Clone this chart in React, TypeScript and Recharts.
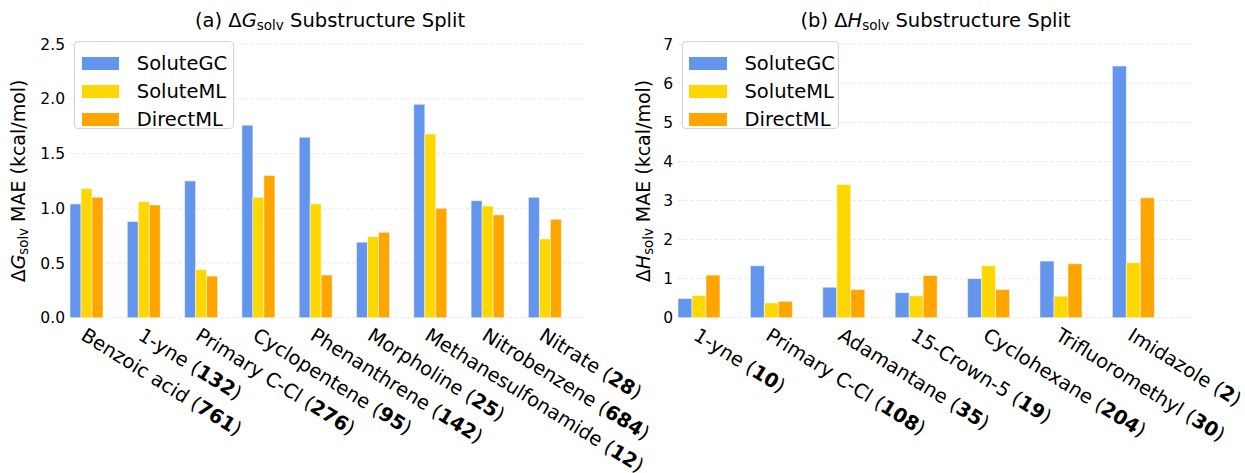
import React from "react";
import { Bar, BarChart, CartesianGrid, Legend, XAxis, YAxis } from "recharts";

const FONT = '"DejaVu Sans", sans-serif';

// Series colours (matplotlib named colours)
const SOLUTE_GC = "#6495ED";
const SOLUTE_ML = "#FFD700";
const DIRECT_ML = "#FFA500";
const seriesOrder = ["SoluteGC", "SoluteML", "DirectML"];

// (a) dG_solv substructure split
const gCategories = [
  "Benzoic acid",
  "1-yne",
  "Primary C-Cl",
  "Cyclopentene",
  "Phenanthrene",
  "Morpholine",
  "Methanesulfonamide",
  "Nitrobenzene",
  "Nitrate",
];
const gCounts = [761, 132, 276, 95, 142, 25, 12, 684, 28];
const gSoluteGC = [1.04, 0.88, 1.25, 1.76, 1.65, 0.69, 1.95, 1.07, 1.1];
const gSoluteML = [1.18, 1.06, 0.44, 1.1, 1.04, 0.74, 1.68, 1.02, 0.72];
const gDirectML = [1.1, 1.03, 0.38, 1.3, 0.39, 0.78, 1.0, 0.94, 0.9];
const gTicks = [0, 0.5, 1.0, 1.5, 2.0, 2.5];

// (b) dH_solv substructure split
const hCategories = [
  "1-yne",
  "Primary C-Cl",
  "Adamantane",
  "15-Crown-5",
  "Cyclohexane",
  "Trifluoromethyl",
  "Imidazole",
];
const hCounts = [10, 108, 35, 19, 204, 30, 2];
const hSoluteGC = [0.49, 1.33, 0.78, 0.64, 1.0, 1.45, 6.44];
const hSoluteML = [0.57, 0.38, 3.41, 0.56, 1.33, 0.55, 1.41];
const hDirectML = [1.09, 0.42, 0.72, 1.08, 0.72, 1.38, 3.07];
const hTicks = [0, 1, 2, 3, 4, 5, 6, 7];

const buildRows = (
  cats: string[],
  gc: number[],
  ml: number[],
  dml: number[]
) =>
  cats.map((name, i) => ({
    name,
    SoluteGC: gc[i],
    SoluteML: ml[i],
    DirectML: dml[i],
  }));

const gRows = buildRows(gCategories, gSoluteGC, gSoluteML, gDirectML);
const hRows = buildRows(hCategories, hSoluteGC, hSoluteML, hDirectML);

// rotated category label: "Name (<b>count</b>)"
function makeTick(cats: string[], counts: number[]) {
  return function CategoryTick(props: any) {
    const { x, y, payload } = props;
    const idx = cats.indexOf(payload.value);
    const ax = x - 7.5;
    const ay = y + 21;
    return (
      <text
        x={ax}
        y={ay}
        transform={`rotate(32, ${ax}, ${ay})`}
        textAnchor="start"
        fontFamily={FONT}
        fontSize={19.5}
        fill="#000"
      >
        <tspan>{payload.value} (</tspan>
        <tspan fontWeight="bold">{counts[idx]}</tspan>
        <tspan>)</tspan>
      </text>
    );
  };
}

function yLabel(symbol: string, baselineX: number) {
  return function YLabel(props: any) {
    const vb = props.viewBox;
    const cy = vb.y + vb.height / 2;
    return (
      <text
        x={baselineX}
        y={cy}
        transform={`rotate(-90, ${baselineX}, ${cy})`}
        textAnchor="middle"
        fontFamily={FONT}
        fontSize={19}
        fill="#000"
      >
        Δ<tspan fontStyle="italic">{symbol}</tspan>
        <tspan fontSize={13.3} dy={3}>
          solv
        </tspan>
        <tspan dy={-3}> MAE (kcal/mol)</tspan>
      </text>
    );
  };
}

function LegendBox({ payload, width }: { payload?: any[]; width: number }) {
  const items = [...(payload || [])].sort(
    (a, b) => seriesOrder.indexOf(a.value) - seriesOrder.indexOf(b.value)
  );
  return (
    <div
      style={{
        width,
        height: 88.6,
        boxSizing: "border-box",
        border: "1px solid #d4d4d4",
        borderRadius: 4,
        background: "rgba(255,255,255,0.8)",
        paddingTop: 8,
        fontFamily: FONT,
        fontSize: 19.5,
        color: "#000",
      }}
    >
      {items.map((entry) => (
        <div
          key={entry.value}
          style={{
            display: "flex",
            alignItems: "center",
            height: 27.8,
            paddingLeft: 6.7,
          }}
        >
          <span
            style={{
              display: "inline-block",
              width: 37.6,
              height: 12.7,
              background: entry.color,
              marginRight: 17.5,
            }}
          />
          <span>{entry.value}</span>
        </div>
      ))}
    </div>
  );
}

function Title({ x, tag, symbol }: { x: number; tag: string; symbol: string }) {
  return (
    <text
      x={x}
      y={26.7}
      textAnchor="middle"
      fontFamily={FONT}
      fontSize={19.5}
      fill="#000"
    >
      {tag} Δ<tspan fontStyle="italic">{symbol}</tspan>
      <tspan fontSize={13.5} dy={3}>
        solv
      </tspan>
      <tspan dy={-3}> Substructure Split</tspan>
    </text>
  );
}

const barProps = {
  stroke: "#ffffff",
  strokeOpacity: 0.5,
  strokeWidth: 1,
  isAnimationActive: false,
};

const tickStyle = { fill: "#000", fontSize: 15.5, fontFamily: FONT };

export default function App() {
  return (
    <div
      style={{
        position: "absolute",
        left: 0,
        top: 0,
        width: 1245,
        height: 473,
        background: "#fff",
        fontFamily: FONT,
      }}
    >
      <div style={{ position: "absolute", left: 0, top: 0 }}>
        <BarChart
          width={700}
          height={473}
          data={gRows}
          barCategoryGap="20%"
          barGap={0}
          margin={{ top: 44.2, right: 115, bottom: 125.3, left: 10 }}
        >
          <CartesianGrid
            vertical={false}
            stroke="#ebebeb"
            strokeDasharray="4 2"
          />
          <XAxis
            dataKey="name"
            interval={0}
            height={30}
            axisLine={false}
            tickLine={false}
            tickSize={0}
            tickMargin={0}
            padding={{ left: -11.45, right: 10.75 }}
            tick={makeTick(gCategories, gCounts)}
          />
          <YAxis
            width={60}
            domain={[0, 2.5]}
            ticks={gTicks}
            interval={0}
            axisLine={false}
            tickLine={false}
            tickSize={5}
            tickMargin={0}
            tick={tickStyle}
            tickFormatter={(v: number) => v.toFixed(1)}
            label={{ content: yLabel("G", 25.5) }}
          />
          <Legend
            layout="vertical"
            align="center"
            verticalAlign="middle"
            wrapperStyle={{ left: 74, top: 40.7, width: "auto", height: "auto" }}
            content={(p: any) => <LegendBox payload={p.payload} width={160} />}
          />
          <Bar dataKey="SoluteGC" name="SoluteGC" fill={SOLUTE_GC} {...barProps} />
          <Bar dataKey="SoluteML" name="SoluteML" fill={SOLUTE_ML} {...barProps} />
          <Bar dataKey="DirectML" name="DirectML" fill={DIRECT_ML} {...barProps} />
        </BarChart>
      </div>

      <div style={{ position: "absolute", left: 620, top: 0 }}>
        <BarChart
          width={625}
          height={473}
          data={hRows}
          barCategoryGap="20%"
          barGap={0}
          margin={{ top: 44.2, right: 52, bottom: 125.3, left: 8 }}
        >
          <CartesianGrid
            vertical={false}
            stroke="#ebebeb"
            strokeDasharray="4 2"
          />
          <XAxis
            dataKey="name"
            interval={0}
            height={30}
            axisLine={false}
            tickLine={false}
            tickSize={0}
            tickMargin={0}
            padding={{ left: -14.5, right: 22.7 }}
            tick={makeTick(hCategories, hCounts)}
          />
          <YAxis
            width={50}
            domain={[0, 7]}
            ticks={hTicks}
            interval={0}
            axisLine={false}
            tickLine={false}
            tickSize={5}
            tickMargin={0}
            tick={tickStyle}
            label={{ content: yLabel("H", 30.5) }}
          />
          <Legend
            layout="vertical"
            align="center"
            verticalAlign="middle"
            wrapperStyle={{ left: 61.7, top: 40.7, width: "auto", height: "auto" }}
            content={(p: any) => <LegendBox payload={p.payload} width={157.3} />}
          />
          <Bar dataKey="SoluteGC" name="SoluteGC" fill={SOLUTE_GC} {...barProps} />
          <Bar dataKey="SoluteML" name="SoluteML" fill={SOLUTE_ML} {...barProps} />
          <Bar dataKey="DirectML" name="DirectML" fill={DIRECT_ML} {...barProps} />
        </BarChart>
      </div>

      <svg
        width={1245}
        height={473}
        style={{ position: "absolute", left: 0, top: 0, pointerEvents: "none" }}
      >
        <Title x={330} tag="(a)" symbol="G" />
        <Title x={935.5} tag="(b)" symbol="H" />
      </svg>
    </div>
  );
}
